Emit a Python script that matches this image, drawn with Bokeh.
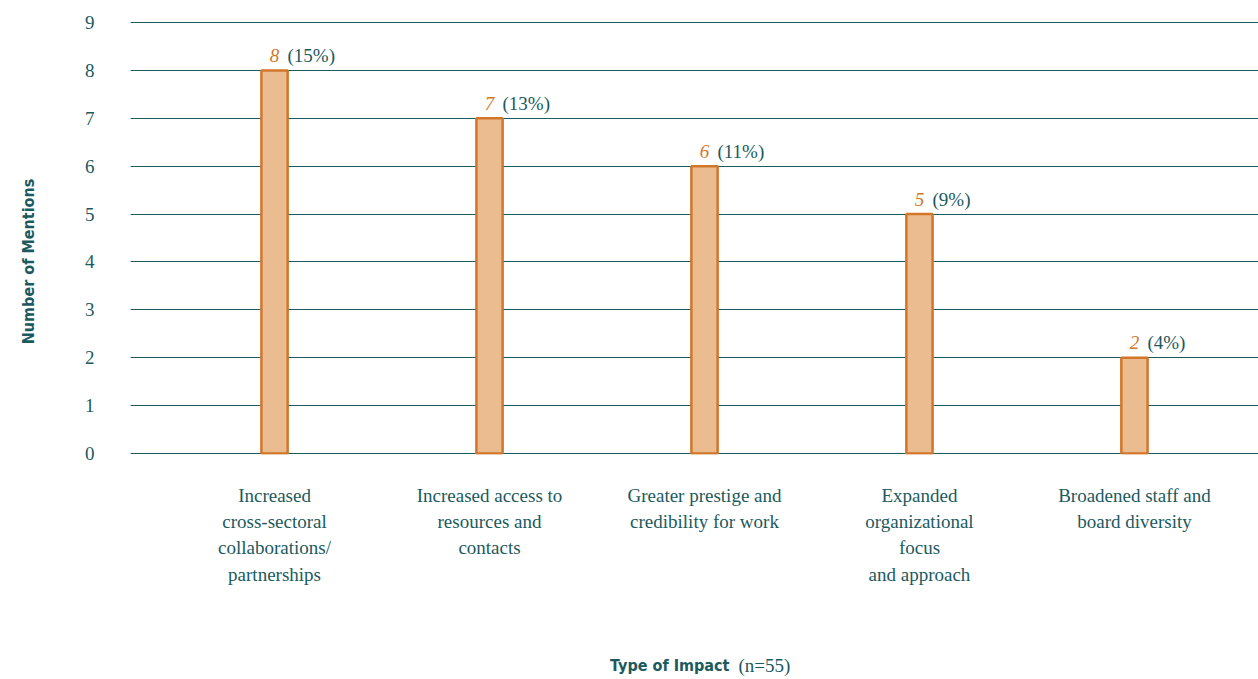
from bokeh.plotting import figure
from bokeh.models import FixedTicker, Label, ColumnDataSource
from bokeh.core.properties import value
from bokeh.embed import file_html
from bokeh.resources import INLINE

categories = [
    "Increased\ncross-sectoral\ncollaborations/\npartnerships",
    "Increased access to\nresources and\ncontacts",
    "Greater prestige and\ncredibility for work",
    "Expanded\norganizational\nfocus\nand approach",
    "Broadened staff and\nboard diversity",
]
mentions = [8, 7, 6, 5, 2]
percents = ["(15%)", "(13%)", "(11%)", "(9%)", "(4%)"]
y_ticks = list(range(0, 10))

TEAL = "#1b5a5e"
ORANGE = "#d2762a"
FILL = "#ebbc90"
SERIF = "Liberation Serif"
COND = "DejaVu Sans Condensed"

xs = list(range(len(categories)))
src = ColumnDataSource(dict(
    x=xs,
    top=mentions,
    num=[str(m) for m in mentions],
    pct=percents,
))

p = figure(
    width=1258, height=679,
    x_range=(-0.67, 4.577), y_range=(-0.021, 9.021),
    output_backend="svg", toolbar_location=None,
    min_border_left=130, min_border_right=0,
    min_border_top=21, min_border_bottom=225,
)
p.outline_line_color = None
p.background_fill_color = "white"
p.border_fill_color = "white"

# horizontal rules at each whole count
p.xgrid.grid_line_color = None
p.ygrid.ticker = FixedTicker(ticks=y_ticks)
p.ygrid.grid_line_color = TEAL
p.ygrid.grid_line_width = 1.2

p.vbar(x="x", top="top", bottom=0, width=0.122, source=src,
       fill_color=FILL, line_color=ORANGE, line_width=2.5)

# value labels: count in italic orange, share in teal
p.text(x="x", y="top", text="num", source=src,
       text_font=value(SERIF), text_font_style="italic",
       text_font_size="19px", text_color=ORANGE,
       text_align="center", text_baseline="alphabetic", y_offset=-15)
p.text(x="x", y="top", text="pct", source=src,
       text_font=value(SERIF), text_font_size="19px", text_color=TEAL,
       text_align="left", text_baseline="alphabetic",
       x_offset=13, y_offset=-15)

# y axis
p.yaxis.ticker = FixedTicker(ticks=y_ticks)
p.yaxis.axis_line_color = None
p.yaxis.major_tick_line_color = None
p.yaxis.minor_tick_line_color = None
p.yaxis.major_label_standoff = 30
p.yaxis.major_label_text_font = SERIF
p.yaxis.major_label_text_font_size = "19px"
p.yaxis.major_label_text_color = TEAL

# x axis with multi-line category names
p.xaxis.ticker = FixedTicker(ticks=xs)
p.xaxis.major_label_overrides = {i: c for i, c in enumerate(categories)}
p.xaxis.axis_line_color = None
p.xaxis.major_tick_line_color = None
p.xaxis.minor_tick_line_color = None
p.xaxis.major_label_standoff = 24
p.xaxis.major_label_text_font = SERIF
p.xaxis.major_label_text_font_size = "19px"
p.xaxis.major_label_text_color = TEAL
p.xaxis.major_label_text_line_height = 1.26

# axis titles, placed in the side panels so they are not clipped by the frame
p.add_layout(Label(x=-1.1445, y=4.01, text="Number of Mentions", angle=1.5708,
                   text_font=COND, text_font_style="bold", text_font_size="16px",
                   text_color=TEAL, text_align="center", text_baseline="middle"),
             "left")
p.add_layout(Label(x=2.116, y=-4.426, text="Type of Impact",
                   text_font=COND, text_font_style="bold", text_font_size="16px",
                   text_color=TEAL, text_align="right", text_baseline="middle"),
             "below")
p.add_layout(Label(x=2.158, y=-4.426, text="(n=55)",
                   text_font=SERIF, text_font_size="19px",
                   text_color=TEAL, text_align="left", text_baseline="middle"),
             "below")

open("out.html", "w").write(file_html(p, INLINE))
